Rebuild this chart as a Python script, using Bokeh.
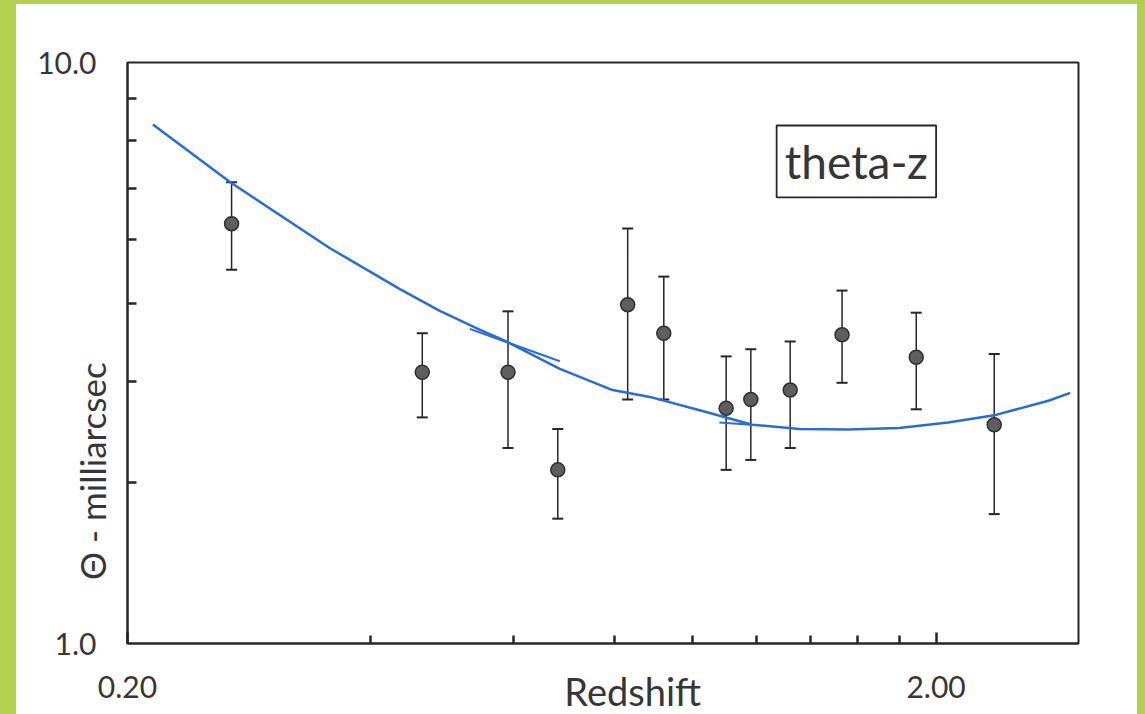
import numpy as np
from bokeh.plotting import figure
from bokeh.models import (ColumnDataSource, Whisker, TeeHead, FixedTicker,
                          PrintfTickFormatter, Label, BoxAnnotation, Range1d, Spacer)
from bokeh.layouts import row, column
from bokeh.embed import file_html
from bokeh.resources import INLINE

# Angular size vs redshift measurements (milliarcsec)
redshift = [0.269, 0.463, 0.591, 0.681, 0.831, 0.921, 1.10, 1.18, 1.32, 1.53, 1.89, 2.36]
theta = [5.28, 2.93, 2.93, 1.99, 3.83, 3.42, 2.54, 2.63, 2.73, 3.40, 3.11, 2.38]
theta_upper = [6.22, 3.42, 3.73, 2.34, 5.18, 4.28, 3.12, 3.21, 3.31, 4.05, 3.71, 3.15]
theta_lower = [4.40, 2.45, 2.17, 1.64, 2.63, 2.63, 1.99, 2.07, 2.17, 2.81, 2.53, 1.67]

# Hand-traced model curve
model_z = [0.215, 0.268, 0.356, 0.435, 0.486, 0.545, 0.591, 0.685, 0.796, 0.892, 1.02,
           1.185, 1.355, 1.558, 1.80, 2.07, 2.36, 2.76, 2.93]
model_theta = [7.82, 6.22, 4.79, 4.07, 3.74, 3.47, 3.30, 2.97, 2.73, 2.65, 2.52,
               2.38, 2.34, 2.335, 2.35, 2.40, 2.47, 2.62, 2.70]

# Short extra pen strokes along the curve
stroke_a_z = [0.530, 0.685]
stroke_a_theta = [3.48, 3.06]
stroke_b_z = [1.079, 1.18]
stroke_b_theta = [2.40, 2.38]

# Axis extents and ticks
X0, X1 = 0.2, 3.0
Y0, Y1 = 1.0, 10.0
x_major_ticks = [0.2, 2.0]
x_minor_ticks = [0.4, 0.6, 0.8, 1.0, 1.2, 1.4, 1.6, 1.8]
y_major_ticks = [1.0, 10.0]
y_minor_ticks = [1.89, 2.82, 3.85, 4.96, 6.07, 7.34, 8.67]

FONT = "Lato"
INK = "#262626"
TEXT = "#363636"
BLUE = "#2a6cd6"
GREEN = "#b5cf50"

# Canvas size and the margins around the data box (pixels)
W, H = 1121, 710
PAD_L, PAD_R, PAD_T, PAD_B = 111, 59, 58, 71

# The frame spans the whole canvas; ranges are widened so the data box sits inside
x_dec = (W - PAD_L - PAD_R) / np.log10(X1 / X0)
y_dec = (H - PAD_T - PAD_B) / np.log10(Y1 / Y0)
x_range = Range1d(X0 * 10 ** (-PAD_L / x_dec), X1 * 10 ** (PAD_R / x_dec))
y_range = Range1d(Y0 * 10 ** (-PAD_B / y_dec), Y1 * 10 ** (PAD_T / y_dec))

p = figure(width=W, height=H, x_axis_type="log", y_axis_type="log",
           x_range=x_range, y_range=y_range,
           output_backend="svg", toolbar_location=None, min_border=0)
p.grid.visible = False
p.background_fill_color = "white"
p.border_fill_color = "white"
p.outline_line_color = None

for ax in (p.xaxis[0], p.yaxis[0]):
    ax.axis_line_color = INK
    ax.axis_line_width = 2
    ax.major_tick_out = 0
    ax.minor_tick_out = 0
    ax.major_tick_line_color = INK
    ax.minor_tick_line_color = INK
    ax.major_tick_line_width = 2.5
    ax.minor_tick_line_width = 2.5
    ax.major_label_text_font = FONT
    ax.major_label_text_font_size = "30px"
    ax.major_label_text_color = TEXT

p.xaxis.fixed_location = Y0
p.xaxis.bounds = (X0, X1)
p.xaxis.ticker = FixedTicker(ticks=x_major_ticks, minor_ticks=x_minor_ticks)
p.xaxis.formatter = PrintfTickFormatter(format="%.2f")
p.xaxis.major_tick_in = 11
p.xaxis.minor_tick_in = 8
p.xaxis.major_label_standoff = 32

p.yaxis.fixed_location = X0
p.yaxis.bounds = (Y0, Y1)
p.yaxis.ticker = FixedTicker(ticks=y_major_ticks, minor_ticks=y_minor_ticks)
p.yaxis.formatter = PrintfTickFormatter(format="%.1f")
p.yaxis.major_tick_in = 0
p.yaxis.minor_tick_in = 9
p.yaxis.major_label_standoff = 31

# Box around the data area
p.add_layout(BoxAnnotation(left=X0, right=X1, bottom=Y0, top=Y1, fill_alpha=0,
                           line_color=INK, line_alpha=1, line_width=2))

src = ColumnDataSource(dict(z=redshift, theta=theta, upper=theta_upper, lower=theta_lower))

p.line(model_z, model_theta, line_color=BLUE, line_width=2.5)
p.line(stroke_a_z, stroke_a_theta, line_color=BLUE, line_width=2)
p.line(stroke_b_z, stroke_b_theta, line_color=BLUE, line_width=2)

whisker = Whisker(source=src, base="z", upper="upper", lower="lower", dimension="height",
                  line_color=INK, line_width=1.5,
                  upper_head=TeeHead(size=11, line_color=INK, line_width=2),
                  lower_head=TeeHead(size=11, line_color=INK, line_width=2))
p.add_layout(whisker)
p.scatter("z", "theta", source=src, size=14, fill_color="#5e5e5e",
          line_color="#2e2e2e", line_width=1.5)

# Tag box
box_l, box_r, box_b, box_t = 1.27, 2.0, 5.86, 7.79
p.add_layout(BoxAnnotation(left=box_l, right=box_r, bottom=box_b, top=box_t,
                           fill_alpha=0, line_color=INK, line_alpha=1, line_width=1.8))
p.add_layout(Label(x=float(np.sqrt(box_l * box_r)), y=float(np.sqrt(box_b * box_t)),
                   text="theta-z", text_align="center", text_baseline="middle",
                   text_font=FONT, text_font_size="46px", text_color=TEXT))

# Axis titles
p.add_layout(Label(x=0.843, y=0.830, text="Redshift", text_align="center",
                   text_baseline="middle", text_font=FONT, text_font_size="38px",
                   text_color=TEXT))
p.add_layout(Label(x=0.181, y=1.98, text="\u0398 - milliarcsec", angle=np.pi / 2,
                   text_align="center", text_baseline="middle", text_font=FONT,
                   text_font_size="35px", text_color=TEXT))

left = Spacer(width=16, height=714, styles={"background-color": GREEN})
right = Spacer(width=8, height=714, styles={"background-color": GREEN})
top = Spacer(width=W, height=4, styles={"background-color": GREEN})
page = row(left, column(top, p), right)

open("out.html", "w").write(file_html(page, INLINE))
